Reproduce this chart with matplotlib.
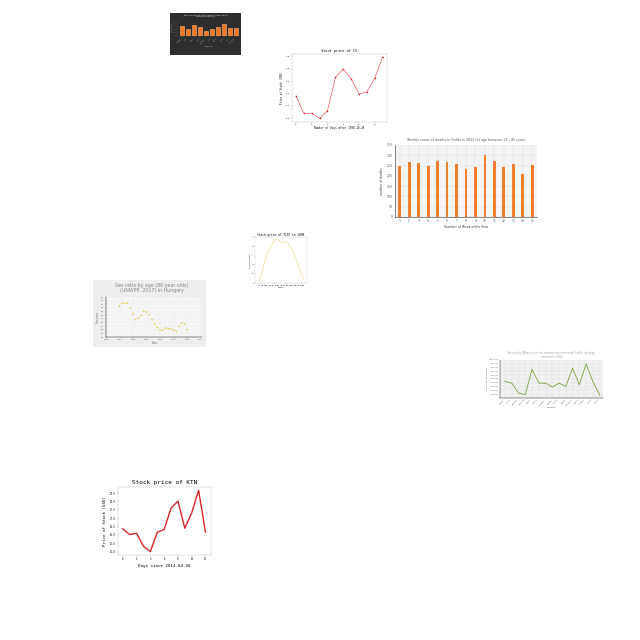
import matplotlib
matplotlib.use("Agg")
import matplotlib.pyplot as plt
from matplotlib.patches import Rectangle

# ---------------- data ----------------
# Chart 1 (dark bar chart)
c1_cats = ["Norway", "Chile", "Japan", "Peru", "Vietnam", "India", "Russia", "China", "USA", "Indonesia"]
c1_vals = [31, 21, 33, 26, 16, 20, 26, 36, 25, 23]

# Chart 2 (Stock price of CS)
c2_days = [0, 1, 2, 3, 4, 5, 6, 7, 8, 9, 10, 11]
c2_price = [6.36, 6.08, 6.08, 6.00, 6.12, 6.66, 6.80, 6.64, 6.39, 6.43, 6.65, 6.99]

# Chart 3 (weekly deaths)
c3_weeks = list(range(1, 16))
c3_deaths = [249, 269, 261, 249, 270, 265, 259, 231, 243, 301, 270, 243, 259, 210, 251]

# Chart 4 (Stock price of TLSF in 2008)
c4_t = list(range(17))
c4_price = [5.7, 10.6, 16.6, 21.0, 24.4, 27.0, 28.8, 28.3, 27.0, 27.6, 27.0, 25.3, 22.7, 19.2, 14.9, 10.6, 7.1]
c4_ticklabels = ["Jan", "Feb", "Mar", "Apr", "May", "Jun", "Jul", "Aug", "Sep", "Oct", "Nov", "Dec",
                 "Jan", "Feb", "Mar", "Apr", "May"]

# Chart 5 (Sex ratio Hungary)
c5_years = list(range(1990, 2016))
c5_ratio = [50.9, 52.7, 52.7, 52.5, 50.0, 46.7, 43.5, 44.5, 45.9, 48.1, 47.8, 46.3, 43.5,
            41.2, 39.3, 38.0, 37.7, 38.9, 38.6, 38.4, 37.7, 37.1, 39.9, 41.7, 41.3, 38.0]

# Chart 6 (Air quality)
c6_countries = ["Albania", "Austria", "Belgium", "Bulgaria", "Croatia", "Cyprus", "Denmark", "Estonia",
                "Finland", "France", "Germany", "Greece", "Hungary", "Iceland", "Ireland"]
c6_vals = [435000, 391000, 130000, 87000, 757000, 391000, 391000, 287000, 391000, 304000,
           783000, 348000, 896000, 435000, 87000]

# Chart 7 (Stock price of KTN)
c7_days = list(range(13))
c7_price = [26.36, 26.02, 26.10, 25.32, 25.00, 26.16, 26.32, 27.60, 28.02, 26.40, 27.32, 28.66, 26.16]

# ---------------- figure ----------------
W = H = 640
fig = plt.figure(figsize=(6.4, 6.4), dpi=100, facecolor="white")


def ax_px(x0, y0, x1, y1, **kw):
    return fig.add_axes([x0 / W, 1 - y1 / H, (x1 - x0) / W, (y1 - y0) / H], **kw)


def fx(x):
    return x / W


def fy(y):
    return 1 - y / H


def light_frame(ax, color="#c8c8c8", lw=0.35):
    for s in ax.spines.values():
        s.set_color(color)
        s.set_linewidth(lw)


MONO = "DejaVu Sans Mono"
SANS = "Open Sans"

# ---- Chart 1: dark bar chart ----
fig.patches.append(Rectangle((fx(170), fy(55)), (241 - 170) / W, (55 - 13) / H,
                             transform=fig.transFigure, facecolor="#2e2e2e", edgecolor="none", zorder=-5))
ax1 = ax_px(178, 20, 240, 36)
ax1.set_facecolor("#2e2e2e")
ax1.bar(range(len(c1_vals)), c1_vals, width=0.65, color="#f07a2a", edgecolor="#ffb070", linewidth=0.4)
ax1.set_xlim(-0.7, len(c1_vals) - 0.3)
ax1.set_ylim(0, 48)
ax1.set_xticks(range(len(c1_vals)))
ax1.set_xticklabels(c1_cats, rotation=45, ha="right", fontsize=1.2, color="#bbbbbb")
ax1.set_yticks([0, 10, 20, 30, 40])
ax1.tick_params(labelsize=1.2, colors="#bbbbbb", length=0.8, width=0.2, pad=0.5)
for s in ax1.spines.values():
    s.set_visible(False)
ax1.set_ylabel("Total size", fontsize=1.5, color="#bbbbbb", labelpad=0.8)
ax1.set_xlabel("Country", fontsize=1.5, color="#bbbbbb", labelpad=1.5)
fig.text(fx(205), fy(15.5), "The total size per fish caught (1982-2022)\nsorted by country", ha="center",
         va="center", fontsize=1.5, color="#eeeeee", linespacing=1.1)

# ---- Chart 2: Stock price of CS ----
ax2 = ax_px(292, 54, 387, 122)
ax2.plot(c2_days, c2_price, color="#e8474f", linewidth=0.45, marker="o", markersize=1.1,
         markerfacecolor="#c8202c", markeredgewidth=0)
ax2.set_xlim(-0.5, 11.55)
ax2.set_ylim(5.94, 7.04)
ax2.set_xticks([0, 2, 4, 6, 8, 10])
ax2.set_yticks([6.0, 6.2, 6.4, 6.6, 6.8, 7.0])
ax2.tick_params(labelsize=1.6, length=1, width=0.3, pad=0.6, color="#999999")
for lbl in ax2.get_xticklabels() + ax2.get_yticklabels():
    lbl.set_family(MONO)
light_frame(ax2)
ax2.set_title("Stock price of CS", fontsize=2.6, family=MONO, pad=1.2)
ax2.set_xlabel("Number of Days after 1998-10-28", fontsize=1.9, family=MONO, labelpad=0.8)
ax2.set_ylabel("Price of Stock (USD)", fontsize=1.9, family=MONO, labelpad=1.0)

# ---- Chart 3: weekly deaths ----
ax3 = ax_px(395, 145, 537, 217)
ax3.set_facecolor("#f4f4f4")
ax3.bar(c3_weeks, c3_deaths, width=0.3, color="#ed7d31", zorder=3)
ax3.set_xlim(0.5, 15.5)
ax3.set_ylim(0, 350)
ax3.set_xticks(c3_weeks)
ax3.set_yticks(range(0, 351, 50))
ax3.grid(True, color="#dddddd", linewidth=0.35, zorder=0)
ax3.tick_params(labelsize=2.2, length=0, pad=1.5, colors="#555555")
for k in ["top", "right"]:
    ax3.spines[k].set_visible(False)
ax3.spines["left"].set_color("#555555")
ax3.spines["left"].set_linewidth(0.5)
ax3.spines["bottom"].set_color("#555555")
ax3.spines["bottom"].set_linewidth(0.5)
ax3.set_title("Weekly count of deaths in Fields in 2022 for age between 25 - 45 years", fontsize=2.6,
              family=SANS, color="#555555", pad=3)
ax3.set_xlabel("Number of Week of the Year", fontsize=2.4, family=SANS, color="#333333", labelpad=1.5)
ax3.set_ylabel("number of deaths", fontsize=2.4, family=SANS, color="#333333", labelpad=2)

# ---- Chart 4: TLSF ----
ax4 = ax_px(255, 237, 307, 283)
ax4.plot(c4_t, c4_price, color="#f2e3a6", linewidth=0.6)
ax4.set_xlim(-1.5, 17.2)
ax4.set_ylim(5.0, 30.0)
ax4.set_xticks(c4_t)
ax4.set_xticklabels(c4_ticklabels, fontsize=1.0, family=MONO)
ax4.set_yticks([5, 10, 15, 20, 25, 30])
ax4.tick_params(labelsize=1.0, length=0.8, width=0.25, pad=0.4, color="#999999")
for lbl in ax4.get_yticklabels():
    lbl.set_family(MONO)
light_frame(ax4, color="#d0d0d0", lw=0.3)
ax4.set_title("Stock price of TLSF in 2008", fontsize=2.2, family=MONO, pad=1.0)
ax4.set_xlabel("Month", fontsize=1.6, family=MONO, labelpad=0.5)
ax4.set_ylabel("Price (USD)", fontsize=1.6, family=MONO, labelpad=0.6)

# ---- Chart 5: Sex ratio ----
fig.patches.append(Rectangle((fx(93), fy(347)), (206 - 93) / W, (347 - 280) / H,
                             transform=fig.transFigure, facecolor="#eeeeee", edgecolor="none", zorder=-5))
ax5 = ax_px(106, 297, 202, 337)
ax5.set_facecolor("#f6f6f6")
ax5.scatter(c5_years, c5_ratio, s=1.4, color="#e9c23a", edgecolors="none", zorder=3)
ax5.set_xlim(1985, 2020.5)
ax5.set_ylim(34, 56)
ax5.set_xticks(range(1985, 2021, 5))
ax5.set_yticks(range(34, 57, 2))
ax5.grid(True, color="#d8d8d8", linewidth=0.3, linestyle=":")
ax5.tick_params(labelsize=1.6, length=0.8, width=0.25, pad=0.6, colors="#666666")
for k in ["top", "right"]:
    ax5.spines[k].set_visible(False)
ax5.spines["left"].set_linewidth(0.3)
ax5.spines["bottom"].set_linewidth(0.3)
ax5.set_xlabel("Years", fontsize=1.8, color="#666666", labelpad=0.8)
ax5.set_ylabel("Sex ratio", fontsize=1.8, color="#666666", labelpad=0.8)
fig.text(fx(152), fy(288), "Sex ratio by age (80 year olds)\n(UNWPP, 2017) in Hungary", ha="center",
         va="center", fontsize=3.4, color="#888888", linespacing=1.05)

# ---- Chart 6: Air quality ----
ax6 = ax_px(500, 360, 603, 398)
ax6.set_facecolor("#f2f2f2")
ax6.plot(range(len(c6_vals)), c6_vals, color="#76a33b", linewidth=0.6, zorder=3)
ax6.set_xlim(-0.74, 14.5)
ax6.set_ylim(0, 1000000)
ax6.set_xticks(range(len(c6_countries)))
ax6.set_xticklabels(c6_countries, rotation=45, ha="right", fontsize=1.4, color="#555555")
ax6.set_yticks(range(0, 1000001, 100000))
ax6.set_yticklabels([f"{v:,}" for v in range(0, 1000001, 100000)], fontsize=1.4, color="#555555")
ax6.grid(True, color="#dcdcdc", linewidth=0.3)
ax6.tick_params(length=0, pad=0.6)
for k in ["top", "right"]:
    ax6.spines[k].set_visible(False)
ax6.spines["left"].set_linewidth(0.3)
ax6.spines["bottom"].set_linewidth(0.3)
ax6.set_title("Air quality (Measure on the national environmental health tracking\nnetwork) in 2000",
              fontsize=2.0, color="#999999", family=SANS, pad=1.5, linespacing=1.1)
ax6.set_xlabel("Country", fontsize=1.7, color="#555555", labelpad=0.8)
ax6.set_ylabel("Value of Air quality", fontsize=1.7, color="#555555", labelpad=0.8)

# ---- Chart 7: KTN ----
ax7 = ax_px(118, 487, 211, 555)
ax7.plot(c7_days, c7_price, color="#d62728", linewidth=1.0)
ax7.set_xlim(-0.7, 12.8)
ax7.set_ylim(24.8, 28.86)
ax7.set_xticks(range(0, 13, 2))
ax7.set_yticks([25.0, 25.5, 26.0, 26.5, 27.0, 27.5, 28.0, 28.5])
ax7.tick_params(labelsize=1.8, length=1, width=0.3, pad=0.8, color="#999999")
for lbl in ax7.get_xticklabels() + ax7.get_yticklabels():
    lbl.set_family(MONO)
light_frame(ax7)
ax7.set_title("Stock price of KTN", fontsize=4.3, family=MONO, pad=2)
ax7.set_xlabel("Days since 2014-04-08", fontsize=3.0, family=MONO, labelpad=1.5)
ax7.set_ylabel("Price of Stock (USD)", fontsize=3.0, family=MONO, labelpad=1.5)

fig.savefig("out.png", dpi=100, facecolor="white")
